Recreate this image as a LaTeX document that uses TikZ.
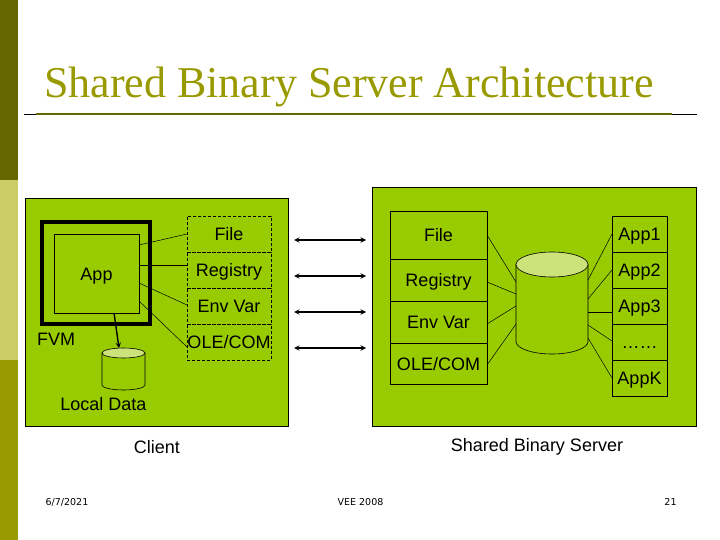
\documentclass[tikz,border=0pt]{standalone}
\usepackage{fontspec}
\setmainfont{Liberation Sans}
\newfontfamily\titlefont{Liberation Serif}
\newfontfamily\footfont{DejaVu Sans}
\usetikzlibrary{calc}
\definecolor{barDark}{HTML}{666600}
\definecolor{barLight}{HTML}{CCCC66}
\definecolor{barMid}{HTML}{999900}
\definecolor{panelBg}{HTML}{99CC00}
\definecolor{dbTop}{HTML}{CCE27A}
\tikzset{
panelstyle/.style={rectangle, draw, fill=panelBg, line width=0.7pt},
labelstyle/.style={font=\fontsize{18}{20}\selectfont, inner sep=0pt, outer sep=0pt},
cellstyle/.style={rectangle, draw, inner sep=0pt, outer sep=0pt, line width=0.6pt, text height=13pt, text depth=0pt, font=\fontsize{18}{20}\selectfont},
dashstyle/.style={cellstyle, densely dashed},
footstyle/.style={font=\footfont\fontsize{9.5}{11}\selectfont, inner sep=0pt},
wirestyle/.style={line width=0.5pt},
linkstyle/.style={<->, >=stealth, line width=1.4pt}
}
% left edge top, height, name, text
\newcommand{\cell}[7][cellstyle]{
  \node [#1, minimum width=#5pt, minimum height=#6pt] (#2) at (#3+#5/2, #4+#6/2) {#7};
}
% name, centre x, centre y, half width, half height, end radius
\newcommand{\dbcan}[6]{
  \pgfmathsetmacro{\cantop}{#3 - #5 + #6}
  \pgfmathsetmacro{\canbot}{#3 + #5 - #6}
  \draw [fill=panelBg, line width=0.6pt] (#2 - #4, \cantop) -- (#2 - #4, \canbot) arc [start angle=180, end angle=360, x radius=#4pt, y radius=#6pt] -- (#2 + #4, \cantop) -- cycle;
  \draw [fill=dbTop, line width=0.6pt] (#2, \cantop) ellipse [x radius=#4pt, y radius=#6pt];
  \coordinate (#1) at (#2, #3);
}
\begin{document}
\begin{tikzpicture}[x=1pt,y=-1pt]
\useasboundingbox (0,0) rectangle (720,540);

% side bar
\fill [barDark] (0,0) rectangle (18,180);
\fill [barLight] (0,180) rectangle (18,360);
\fill [barMid] (0,360) rectangle (18,540);

% title
\node [font=\titlefont\fontsize{44}{48}\selectfont, text=barMid, inner sep=0pt, anchor=base west] (title) at (44,98) {Shared Binary Server Architecture};
\draw [line width=0.7pt] (24,114) -- (697,114);
\draw [barDark, line width=2pt] (36,114.5) -- (672,114.5);

% client
\cell[panelstyle]{client}{25}{198}{263}{228}{}
\node [rectangle, draw, line width=4pt, minimum width=108pt, minimum height=102pt, inner sep=0pt, outer sep=0pt] (fvm) at (96,273) {};
\cell{appBox}{54}{234}{85}{79}{App}
\node [labelstyle] (fvmLabel) at (56,339) {FVM};
\cell[dashstyle]{fileCl}{187}{216}{84}{36}{File}
\cell[dashstyle]{regCl}{187}{252}{84}{36}{Registry}
\cell[dashstyle]{envCl}{187}{288}{84}{36}{Env Var}
\cell[dashstyle]{oleCl}{187}{324}{84}{36}{OLE/COM}
\dbcan{localDb}{123.5}{369}{21.5}{21}{5}
\node [labelstyle] (localLabel) at (103.5,404) {Local Data};

\foreach \cname/\fromy/\toy in {fileCl/-28.5/0,regCl/-8.5/-5,envCl/9.5/-1,oleCl/27.5/5}
  \draw [wirestyle] ([yshift=-\fromy pt]appBox.east) -- ([yshift=-\toy pt]\cname.west);
\draw [->, >=stealth, line width=1.4pt] ([xshift=17.5pt]appBox.south) -- ($(localDb)+(-4.5,-21)$);

% server
\cell[panelstyle]{server}{372}{187}{324}{239}{}
\cell{fileSrv}{390}{211}{97}{48}{File}
\cell{regSrv}{390}{259}{97}{42}{Registry}
\cell{envSrv}{390}{301}{97}{42}{Env Var}
\cell{oleSrv}{390}{343}{97}{41}{OLE/COM}
\dbcan{srvDb}{552}{303}{36}{51}{12.5}
\cell{appOne}{612}{216}{55}{36}{App1}
\cell{appTwo}{612}{252}{55}{36}{App2}
\cell{appThree}{612}{288}{55}{36}{App3}
\cell{appDots}{612}{324}{55}{36}{……}
\cell{appKay}{612}{360}{55}{36}{AppK}

\foreach \cname/\fromy/\toy in {fileSrv/0/-21,regSrv/2/-9,envSrv/2/3,oleSrv/1.5/21}
  \draw [wirestyle] ([yshift=-\fromy pt]\cname.east) -- ($(srvDb)+(-36,\toy)$);
\foreach \cname/\fromy/\toy in {appOne/-23/0,appTwo/-4/0,appThree/9/6,appDots/22/-1,appKay/35/0}
  \draw [wirestyle] ($(srvDb)+(36,\fromy)$) -- ([yshift=-\toy pt]\cname.west);

% links between the two sides
\coordinate (linkA1) at (294,240);
\coordinate (linkA2) at (366,240);
\coordinate (linkB1) at (294,276);
\coordinate (linkB2) at (366,276);
\coordinate (linkC1) at (294,312);
\coordinate (linkC2) at (366,312);
\coordinate (linkD1) at (294,348);
\coordinate (linkD2) at (366,348);
\foreach \i in {A,B,C,D}
  \draw [linkstyle] (link\i1) -- (link\i2);

\node [labelstyle] (clientLabel) at (157,447) {Client};
\node [labelstyle] (serverLabel) at (537,447) {Shared Binary Server};

% footer
\node [footstyle] (dateNode) at (67,502) {6/7/2021};
\node [footstyle] (confNode) at (360.5,502) {VEE 2008};
\node [footstyle] (pageNode) at (670.5,502) {21};
\end{tikzpicture}
\end{document}
